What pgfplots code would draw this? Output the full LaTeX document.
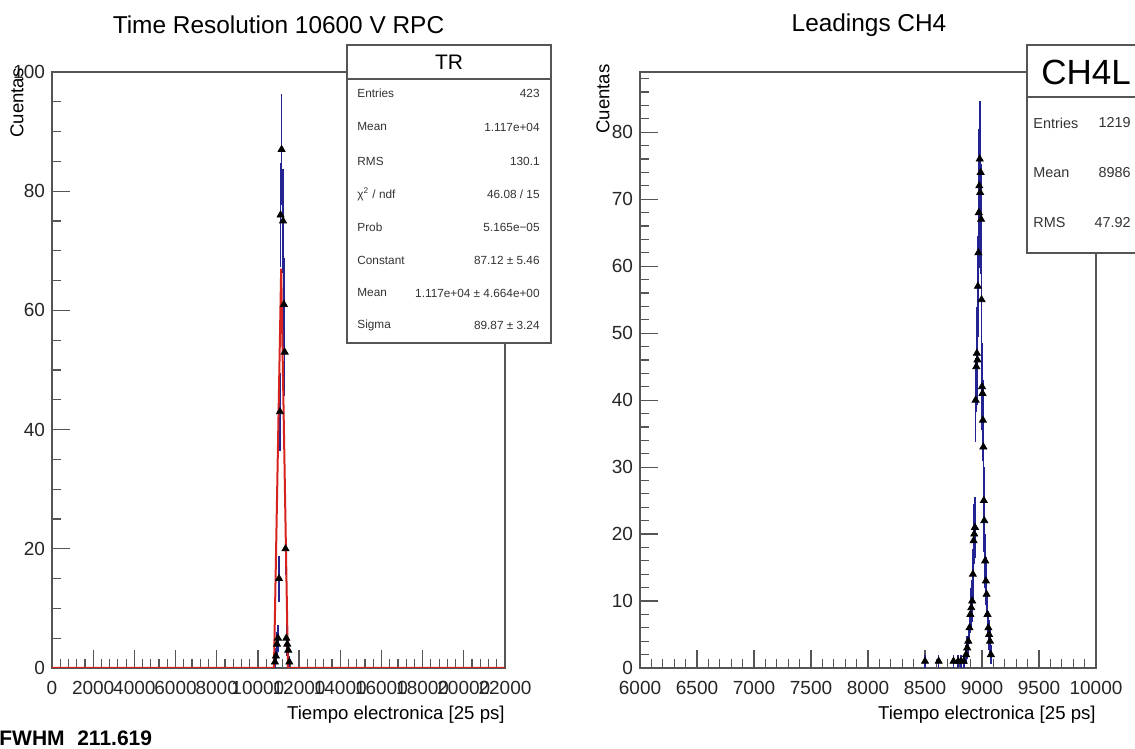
\documentclass[border=0pt]{standalone}
\usepackage{fontspec}
\setmainfont{Liberation Sans}
\usepackage{pgfplots}
\pgfplotsset{compat=1.18}
\definecolor{histblue}{RGB}{35,35,145}
\definecolor{fitred}{RGB}{215,35,30}
\definecolor{framegray}{RGB}{85,85,85}
\pgfplotsset{rootstyle/.style={
  scale only axis,
  anchor=south west,
  tick pos=left,
  tick align=inside,
  major tick length=9pt,
  minor tick length=4.5pt,
  axis line style={framegray, line width=0.6pt},
  tick style={framegray, line width=0.6pt},
  ticklabel style={font=\fontsize{9.5}{11}\selectfont, text=black!85},
  xticklabel style={yshift=-3pt},
  /pgf/number format/assume math mode=true,
  /pgf/number format/set thousands separator={},
  scaled ticks=false,
}}
\newcommand{\fsz}[1]{\fontsize{#1}{#1}\selectfont}
\begin{document}
\begin{tikzpicture}
\fill[white] (0pt,0pt) rectangle (567.5pt,374.5pt);
\useasboundingbox (0pt,0pt) rectangle (567.5pt,374.5pt);

% ---------------- left panel ----------------
\begin{axis}[rootstyle, at={(26pt,40.5pt)}, width=226.5pt, height=298pt,
  xmin=0, xmax=22000, ymin=0, ymax=100,
  xtick={0,2000,...,22000}, minor x tick num=4,
  ytick={0,20,...,100}, minor y tick num=3]
\addplot[only marks, mark=triangle*, mark size=2pt, mark options={fill=black, draw=black},
  error bars/.cd, y dir=both, y explicit, error mark=none,
  error bar style={histblue, line width=0.8pt}]
  coordinates {
  (10825,1) +- (0,1)
  (10875,2) +- (0,1.41)
  (10925,4) +- (0,2)
  (10975,5) +- (0,2.24)
  (11025,15) +- (0,3.87)
  (11070,43) +- (0,6.56)
  (11100,76) +- (0,8.72)
  (11150,87) +- (0,9.33)
  (11220,75) +- (0,8.66)
  (11260,61) +- (0,7.81)
  (11300,53) +- (0,7.28)
  (11340,20) +- (0,4.47)
  (11380,5) +- (0,2.24)
  (11425,4) +- (0,2)
  (11475,3) +- (0,1.73)
  (11525,1) +- (0,1)
  };
\addplot[fitred, line width=1pt] coordinates {
  (0,0) (10780,0) (11130,67) (11460,0) (22000,0)};
\end{axis}

% ---------------- right panel ----------------
\begin{axis}[rootstyle, at={(320pt,40.5pt)}, width=228pt, height=298pt,
  xmin=6000, xmax=10000, ymin=0, ymax=89,
  xtick={6000,6500,...,10000}, minor x tick num=4,
  ytick={0,10,...,80}, minor ytick={0,2,...,88}]
\addplot[only marks, mark=triangle*, mark size=2pt, mark options={fill=black, draw=black},
  error bars/.cd, y dir=both, y explicit, error mark=none,
  error bar style={histblue, line width=0.8pt}]
  coordinates {
  (8500,1) +- (0,1)
  (8620,1) +- (0,1)
  (8750,1) +- (0,1)
  (8790,1) +- (0,1)
  (8815,1) +- (0,1)
  (8840,1) +- (0,1)
  (8860,2) +- (0,1.41)
  (8870,3) +- (0,1.73)
  (8880,4) +- (0,2)
  (8890,6) +- (0,2.45)
  (8898,8) +- (0,2.83)
  (8906,9) +- (0,3)
  (8914,10) +- (0,3.16)
  (8920,14) +- (0,3.74)
  (8926,19) +- (0,4.36)
  (8932,20) +- (0,4.47)
  (8938,21) +- (0,4.58)
  (8944,40) +- (0,6.32)
  (8950,45) +- (0,6.71)
  (8955,47) +- (0,6.86)
  (8960,46) +- (0,6.78)
  (8964,57) +- (0,7.55)
  (8968,62) +- (0,7.87)
  (8972,68) +- (0,8.25)
  (8976,72) +- (0,8.49)
  (8980,76) +- (0,8.72)
  (8984,71) +- (0,8.43)
  (8988,74) +- (0,8.60)
  (8992,67) +- (0,8.19)
  (8996,55) +- (0,7.42)
  (9000,42) +- (0,6.48)
  (9004,41) +- (0,6.40)
  (9008,37) +- (0,6.08)
  (9012,33) +- (0,5.74)
  (9016,25) +- (0,5)
  (9020,22) +- (0,4.69)
  (9028,16) +- (0,4)
  (9034,13) +- (0,3.61)
  (9040,11) +- (0,3.32)
  (9048,8) +- (0,2.83)
  (9056,6) +- (0,2.45)
  (9062,5) +- (0,2.24)
  (9070,4) +- (0,2)
  (9078,2) +- (0,1.41)
  };
\end{axis}

% ---------------- titles and labels ----------------
\node[font=\fontsize{12.2}{14}\selectfont] at (139.25pt,362pt) {Time Resolution 10600 V RPC};
\node[font=\fontsize{12.2}{14}\selectfont] at (434.5pt,362pt) {Leadings CH4};
\node[anchor=east, inner sep=0pt, font=\fontsize{9.3}{11}\selectfont] at (252.5pt,17pt) {Tiempo electronica [25 ps]};
\node[anchor=east, inner sep=0pt, font=\fontsize{9.3}{11}\selectfont] at (548pt,17pt) {Tiempo electronica [25 ps]};
\node[rotate=90, anchor=east, inner sep=0pt, font=\fontsize{9.3}{11}\selectfont] at (8.5pt,340.5pt) {Cuentas};
\node[rotate=90, anchor=east, inner sep=0pt, font=\fontsize{9.3}{11}\selectfont] at (301.5pt,342.5pt) {Cuentas};
\node[anchor=west, inner sep=0pt, font=\bfseries\fontsize{10.5}{12}\selectfont] at (-0.5pt,5.5pt) {FWHM\hspace{0.6em}211.619};

% ---------------- TR stats box ----------------
\draw[framegray, fill=white, line width=0.6pt] (173.5pt,203pt) rectangle (275.5pt,352pt);
\draw[framegray, line width=0.6pt] (173.5pt,335pt) -- (275.5pt,335pt);
\node[font=\fontsize{10.5}{12}\selectfont] at (224.5pt,343.5pt) {TR};
\begin{scope}[every node/.style={inner sep=0pt, font=\fsz{5.9}, text=black!80}]
\node[anchor=west] at (178.5pt,328pt) {Entries};   \node[anchor=east] at (270pt,328pt) {423};
\node[anchor=west] at (178.5pt,311pt) {Mean};      \node[anchor=east] at (270pt,311pt) {1.117e+04};
\node[anchor=west] at (178.5pt,294pt) {RMS};       \node[anchor=east] at (270pt,294pt) {130.1};
\node[anchor=west] at (178.5pt,277.5pt) {χ\textsuperscript{2} / ndf}; \node[anchor=east] at (270pt,277.5pt) {46.08 / 15};
\node[anchor=west] at (178.5pt,261pt) {Prob};      \node[anchor=east] at (270pt,261pt) {5.165e−05};
\node[anchor=west] at (178.5pt,244.5pt) {Constant}; \node[anchor=east] at (270pt,244.5pt) {87.12 ± 5.46};
\node[anchor=west] at (178.5pt,228pt) {Mean};      \node[anchor=east] at (270pt,228pt) {1.117e+04 ± 4.664e+00};
\node[anchor=west] at (178.5pt,212pt) {Sigma};     \node[anchor=east] at (270pt,212pt) {89.87 ± 3.24};
\end{scope}

% ---------------- CH4L stats box ----------------
\draw[framegray, fill=white, line width=0.6pt] (513.5pt,248pt) rectangle (572pt,352pt);
\draw[framegray, line width=0.6pt] (513.5pt,326pt) -- (572pt,326pt);
\node[font=\fontsize{17.5}{19}\selectfont] at (543pt,338.5pt) {CH4L};
\begin{scope}[every node/.style={inner sep=0pt, font=\fsz{7.2}, text=black!80}]
\node[anchor=west] at (516.5pt,313pt) {Entries}; \node[anchor=east] at (565.5pt,313pt) {1219};
\node[anchor=west] at (516.5pt,288pt) {Mean};    \node[anchor=east] at (565.5pt,288pt) {8986};
\node[anchor=west] at (516.5pt,263pt) {RMS};     \node[anchor=east] at (565.5pt,263pt) {47.92};
\end{scope}
\end{tikzpicture}
\end{document}
